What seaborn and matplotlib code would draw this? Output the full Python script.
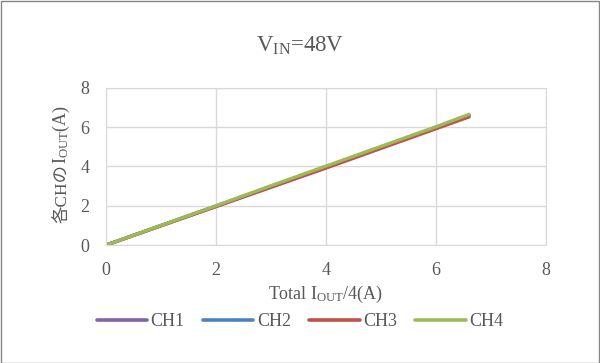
import pandas as pd
import matplotlib
matplotlib.use("Agg")
import matplotlib.pyplot as plt
import seaborn as sns

# dane
total_iout = [0, 1, 2, 3, 4, 5, 6, 6.6]
ch1 = [0, 0.99, 1.97, 2.96, 3.95, 4.96, 5.97, 6.58]
ch2 = [0, 1.00, 1.99, 2.99, 3.98, 4.99, 5.99, 6.60]
ch3 = [0, 0.98, 1.96, 2.94, 3.92, 4.92, 5.92, 6.52]
ch4 = [0, 1.00, 2.00, 3.02, 4.02, 5.02, 6.02, 6.65]
channels = ["CH1", "CH2", "CH3", "CH4"]
colors = ["#8064A2", "#4F81BD", "#C0504D", "#9BBB59"]

rows = []
for name, vals in zip(channels, [ch1, ch2, ch3, ch4]):
    for x, y in zip(total_iout, vals):
        rows.append({"x": x, "y": y, "ch": name})
df = pd.DataFrame(rows)

sns.set_style("white")
plt.rcParams["font.family"] = ["Liberation Serif", "Noto Sans CJK JP"]
plt.rcParams["mathtext.fontset"] = "custom"
plt.rcParams["mathtext.rm"] = "Liberation Serif"
txt = "#595959"

fig = plt.figure(figsize=(6, 3.63), dpi=100)
ax = fig.add_axes([0.177, 0.325, 0.733, 0.433])

sns.lineplot(data=df, x="x", y="y", hue="ch", palette=colors,
             linewidth=2.4, ax=ax, legend=False)

ax.set_xlim(0, 8)
ax.set_ylim(0, 8)
ax.set_xticks([0, 2, 4, 6, 8])
ax.set_yticks([0, 2, 4, 6, 8])
ax.grid(True, color="#D9D9D9", linewidth=1)
ax.set_axisbelow(True)
for s in ax.spines.values():
    s.set_color("#D9D9D9")
ax.tick_params(length=0, labelsize=13, colors=txt, pad=12)

ax.set_xlabel(r"Total $\mathregular{I_{OUT}}$/4(A)", fontsize=13, color=txt, labelpad=4)
ax.set_ylabel("")

# etykieta osi Y: część japońska zwykłym tekstem, reszta mathtext
fig.text(0.104, 0.386, "各CHの", rotation=90, ha="center", va="bottom",
         fontsize=12.5, color=txt)
fig.text(0.102, 0.549, r"$\mathregular{I_{OUT}}$(A)", rotation=90,
         ha="center", va="bottom", fontsize=13, color=txt)

fig.text(0.5, 0.875, r"$\mathregular{V_{IN}}$=48V", ha="center", va="center",
         fontsize=16.5, color=txt)

handles = [plt.Line2D([], [], color=c, linewidth=2.6) for c in colors]
fig.legend(handles, channels, loc="center", bbox_to_anchor=(0.5, 0.113), ncol=4,
           frameon=False, fontsize=13, handlelength=2.8, columnspacing=1.0,
           handletextpad=0.2, labelcolor=txt)

fig.patches.append(plt.Rectangle((0.001, 0.001), 0.998, 0.997, transform=fig.transFigure,
                                 fill=False, edgecolor="#868686", linewidth=1))

fig.savefig("out.png", dpi=100)
